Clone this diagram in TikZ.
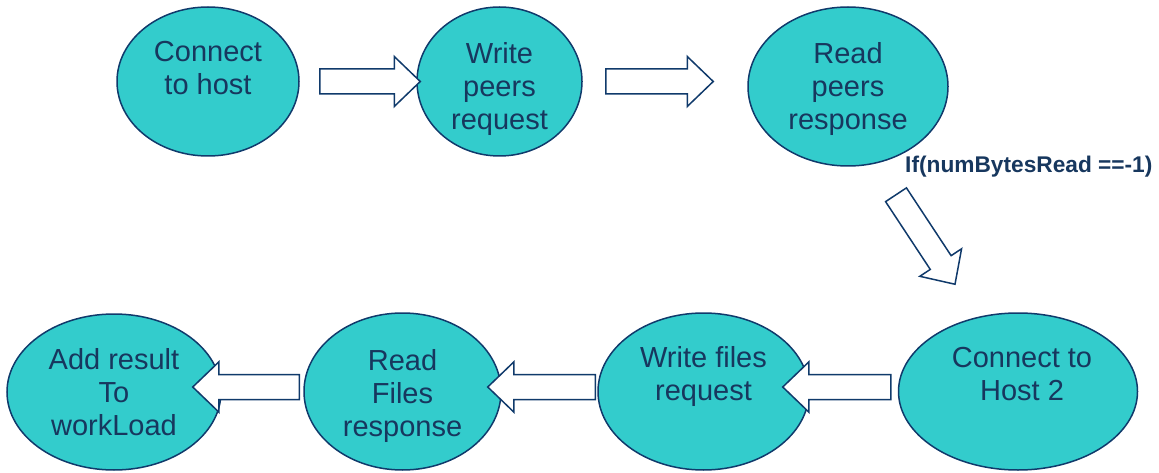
\documentclass[tikz,border=0pt]{standalone}
\usepackage{fontspec}
\setmainfont{Liberation Sans}
\usepackage{tikz}
\usepackage{xcolor}
\usetikzlibrary{positioning,shapes.geometric,calc}
\definecolor{stagefill}{HTML}{33CCCC}
\definecolor{navyline}{HTML}{103A6B}
\definecolor{navytext}{HTML}{17375E}
\tikzset{
  stage/.style={ellipse,draw=navyline,fill=stagefill,line width=1.5pt,inner sep=0pt},
  stagetxt/.style={align=center,inner sep=0pt,text=navytext,
                   font=\fontsize{29}{33}\selectfont},
  condtxt/.style={inner sep=0pt,text=navytext,font=\fontsize{22.7}{26}\selectfont\bfseries},
  blockarrow/.style={draw=navyline,fill=white,line width=1.5pt,line join=miter,
    to path={
      ($(\tikztostart)!12.5pt!90:(\tikztotarget)$)
      -- ($($(\tikztotarget)!26pt!(\tikztostart)$)!12.5pt!90:(\tikztotarget)$)
      -- ($($(\tikztotarget)!26pt!(\tikztostart)$)!25pt!90:(\tikztotarget)$)
      -- (\tikztotarget)
      -- ($($(\tikztotarget)!26pt!(\tikztostart)$)!25pt!-90:(\tikztotarget)$)
      -- ($($(\tikztotarget)!26pt!(\tikztostart)$)!12.5pt!-90:(\tikztotarget)$)
      -- ($(\tikztostart)!12.5pt!-90:(\tikztotarget)$)
      -- cycle}}
}
\begin{document}
\begin{tikzpicture}[x=1pt,y=1pt]
  \useasboundingbox (0,0) rectangle (1159,472);

  \node[stage,minimum width=182,minimum height=149] (conn) at (208,390.5) {};
  \node[stage,minimum width=165,minimum height=149] (wpeer) at (499.5,390.5) {};
  \node[stage,minimum width=200,minimum height=159] (rpeer) at (848,385.5) {};
  \node[stage,minimum width=239,minimum height=157] (host2) at (1018,80.5) {};
  \node[stage,minimum width=211,minimum height=157] (wfiles) at (703.5,80.5) {};
  \node[stage,minimum width=197,minimum height=157] (rfiles) at (402.5,80.5) {};
  \node[stage,minimum width=214,minimum height=156] (addres) at (114,80) {};

  \node[stagetxt,below=35pt of conn.north] (conn-t) {Connect\\to host};
  \node[stagetxt,below=36pt of wpeer.north] (wpeer-t) {Write\\peers\\request};
  \node[stagetxt,below=36pt of rpeer.north] (rpeer-t) {Read\\peers\\response};
  \node[stagetxt,below=35pt of host2.north,xshift=4pt] (host2-t) {Connect to\\Host 2};
  \node[stagetxt,below=34pt of wfiles.north] (wfiles-t) {Write files\\request};
  \node[stagetxt,below=37pt of rfiles.north] (rfiles-t) {Read\\Files\\response};
  \node[stagetxt,below=35pt of addres.north] (addres-t) {Add result\\To\\workLoad};

  \node[condtxt,anchor=base west] (cond) at (905,299) {If(numBytesRead ==-1)};

  \coordinate (a1s) at ($(conn.east)+(20,0)$);
  \coordinate (a1e) at ($(wpeer.west)+(4,0)$);
  \coordinate (a2s) at ($(wpeer.east)+(23,0)$);
  \coordinate (a2e) at ($(rpeer.west |- wpeer.east)+(-34,0)$);
  \coordinate (a3s) at ($(rpeer.south)+(48,-28)$);
  \coordinate (a3e) at ($(host2.north)+(-63,28)$);
  \coordinate (a4s) at ($(host2.west)+(-7,4.5)$);
  \coordinate (a4e) at ($(wfiles.east)+(-27,4.5)$);
  \coordinate (a5s) at ($(wfiles.west)+(-2,4.5)$);
  \coordinate (a5e) at ($(rfiles.east)+(-14,4.5)$);
  \coordinate (a6s) at ($(rfiles.west)+(-4,4.5)$);
  \coordinate (a6e) at ($(addres.east)+(-29,5)$);

  \draw[blockarrow] (a1s) to (a1e);
  \draw[blockarrow] (a2s) to (a2e);
  \draw[blockarrow] (a3s) to (a3e);
  \draw[blockarrow] (a4s) to (a4e);
  \draw[blockarrow] (a5s) to (a5e);
  \draw[blockarrow] (a6s) to (a6e);
\end{tikzpicture}
\end{document}
